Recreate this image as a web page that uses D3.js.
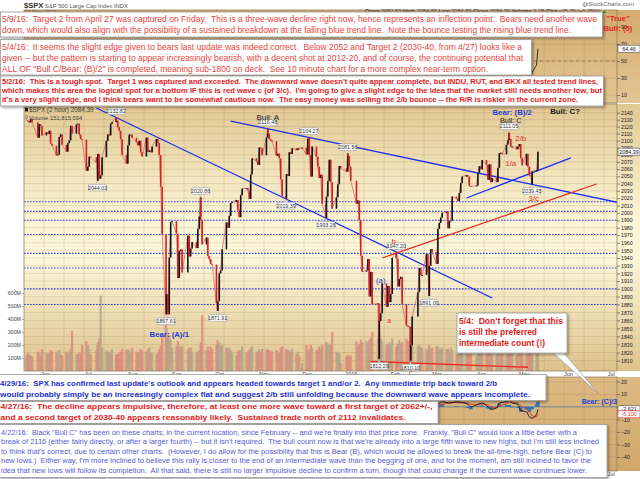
<!DOCTYPE html>
<html>
<head>
<meta charset="utf-8">
<script src="https://cdn.jsdelivr.net/npm/d3@7"></script>
<style>
  body { margin: 0; background: #fff; }
  svg { display: block; font-family: "Liberation Sans", Arial, sans-serif; }
</style>
</head>
<body>
<svg id="chart" width="640" height="479"></svg>
<script>
"use strict";

// $SPX closes (plus a few intraday turning points), volume in millions
const spx = [
  ["2015-05-18",2129.2,120],["2015-05-19",2127.8,140],["2015-05-20",2125.9,125],["2015-05-21",2130.8,120],
  ["2015-05-22",2126.1,110],["2015-05-26",2104.2,150],["2015-05-27",2123.5,140],["2015-05-28",2120.8,120],
  ["2015-05-29",2107.4,170],["2015-06-01",2111.7,140],["2015-06-02",2109.6,130],["2015-06-03",2114.1,140],
  ["2015-06-04",2095.8,160],["2015-06-05",2092.8,150],["2015-06-08",2079.3,140],["2015-06-09",2080.2,150],
  ["2015-06-10",2105.2,160],["2015-06-11",2108.9,130],["2015-06-12",2094.1,120],["2015-06-15",2084.4,150],
  ["2015-06-16",2096.3,130],["2015-06-17",2100.4,150],["2015-06-18",2121.2,170],["2015-06-19",2110.0,310],
  ["2015-06-22",2122.9,130],["2015-06-23",2124.2,130],["2015-06-24",2108.6,140],["2015-06-25",2102.3,140],
  ["2015-06-26",2101.5,200],["2015-06-29",2057.6,230],["2015-06-30",2063.1,200],["2015-07-01",2077.4,170],
  ["2015-07-02",2076.8,130],["2015-07-06",2068.8,160],["2015-07-07 11",2044.0,200],["2015-07-07",2081.3,220],
  ["2015-07-08",2046.7,250],["2015-07-09",2051.3,580],["2015-07-10",2076.6,180],["2015-07-13",2099.6,160],
  ["2015-07-14",2108.9,150],["2015-07-15",2107.4,140],["2015-07-16",2124.3,150],["2015-07-17",2126.6,170],
  ["2015-07-20 12",2132.8,130],["2015-07-20",2128.3,130],["2015-07-21",2119.2,130],["2015-07-22",2114.2,140],
  ["2015-07-23",2102.2,150],["2015-07-24",2079.7,170],["2015-07-27",2067.6,160],["2015-07-28",2093.3,170],
  ["2015-07-29",2108.6,160],["2015-07-30",2108.6,140],["2015-07-31",2104.0,180],["2015-08-03",2098.0,150],
  ["2015-08-04",2093.3,140],["2015-08-05",2099.8,150],["2015-08-06",2083.6,170],["2015-08-07",2077.6,160],
  ["2015-08-10",2104.2,150],["2015-08-11",2084.1,170],["2015-08-12",2086.1,180],["2015-08-13",2083.4,140],
  ["2015-08-14",2091.5,140],["2015-08-17",2102.4,130],["2015-08-18",2096.9,140],["2015-08-19",2079.6,170],
  ["2015-08-20",2035.7,200],["2015-08-21",1970.9,280],["2015-08-24 10",1867.6,370],["2015-08-24",1893.2,330],
  ["2015-08-25",1867.6,280],["2015-08-26",1940.5,280],["2015-08-27",1987.7,240],["2015-08-28",1988.9,180],
  ["2015-08-31",1972.2,190],["2015-09-01",1913.9,230],["2015-09-02",1948.9,200],["2015-09-03",1951.1,180],
  ["2015-09-04",1921.2,190],["2015-09-08",1969.4,170],["2015-09-09",1942.0,180],["2015-09-10",1952.3,180],
  ["2015-09-11",1961.1,150],["2015-09-14",1953.0,140],["2015-09-15",1978.1,150],["2015-09-16",1995.3,160],
  ["2015-09-17 14",2020.9,200],["2015-09-17",1990.2,220],["2015-09-18",1958.0,430],["2015-09-21",1967.0,160],
  ["2015-09-22",1942.7,190],["2015-09-23",1938.8,160],["2015-09-24",1932.2,190],["2015-09-25",1931.3,170],
  ["2015-09-28",1881.8,200],["2015-09-29 11",1871.9,240],["2015-09-29",1884.1,210],["2015-09-30",1920.0,220],
  ["2015-10-01",1923.8,190],["2015-10-02",1951.4,200],["2015-10-05",1987.1,180],["2015-10-06",1979.9,170],
  ["2015-10-07",1995.8,180],["2015-10-08",2013.4,160],["2015-10-09",2014.9,140],["2015-10-12",2017.5,120],
  ["2015-10-13",2003.7,150],["2015-10-14",1994.2,160],["2015-10-15",2023.9,160],["2015-10-16",2033.1,190],
  ["2015-10-19",2033.7,140],["2015-10-20",2030.8,150],["2015-10-21",2018.9,160],["2015-10-22",2052.5,180],
  ["2015-10-23",2075.2,190],["2015-10-26",2071.2,140],["2015-10-27",2065.9,150],["2015-10-28",2090.4,170],
  ["2015-10-29",2089.4,140],["2015-10-30",2079.4,170],["2015-11-02",2104.1,160],["2015-11-03 14",2116.5,170],
  ["2015-11-03",2109.8,160],["2015-11-04",2102.3,160],["2015-11-05",2099.9,150],["2015-11-06",2099.2,150],
  ["2015-11-09",2078.6,160],["2015-11-10",2081.7,150],["2015-11-11",2075.0,140],["2015-11-12",2046.0,180],
  ["2015-11-13",2023.0,190],["2015-11-16 10",2019.4,170],["2015-11-16",2053.2,160],["2015-11-17",2050.4,160],
  ["2015-11-18",2083.6,160],["2015-11-19",2081.2,150],["2015-11-20",2089.2,170],["2015-11-23",2086.6,130],
  ["2015-11-24",2089.1,150],["2015-11-25",2088.9,110],["2015-11-27",2090.1,60],["2015-11-30",2080.4,200],
  ["2015-12-01",2102.6,160],["2015-12-02 10",2104.3,140],["2015-12-02",2079.5,170],["2015-12-03",2049.6,200],
  ["2015-12-04",2091.7,180],["2015-12-07",2077.1,160],["2015-12-08",2063.6,170],["2015-12-09",2047.6,190],
  ["2015-12-10",2052.2,170],["2015-12-11",2012.4,200],["2015-12-14 10",1993.3,220],["2015-12-14",2021.9,220],
  ["2015-12-15",2043.4,200],["2015-12-16",2073.1,210],["2015-12-17",2041.9,200],["2015-12-18",2005.6,300],
  ["2015-12-21",2021.2,150],["2015-12-22",2039.0,140],["2015-12-23",2064.3,140],["2015-12-24",2061.0,60],
  ["2015-12-28",2056.5,110],["2015-12-29 14",2081.6,120],["2015-12-29",2078.4,120],["2015-12-30",2063.4,110],
  ["2015-12-31",2043.9,120],["2016-01-04",2012.7,230],["2016-01-05",2016.7,190],["2016-01-06",1990.3,210],
  ["2016-01-07",1943.1,240],["2016-01-08",1922.0,220],["2016-01-11",1923.7,230],["2016-01-12",1938.7,210],
  ["2016-01-13",1890.3,240],["2016-01-14",1921.8,260],["2016-01-15",1880.3,300],["2016-01-19",1881.3,250],
  ["2016-01-20 11",1812.3,300],["2016-01-20",1859.3,290],["2016-01-21",1869.0,250],["2016-01-22",1906.9,230],
  ["2016-01-25",1877.1,200],["2016-01-26",1903.6,210],["2016-01-27",1883.0,220],["2016-01-28",1893.4,200],
  ["2016-01-29",1940.2,250],["2016-02-01 14",1947.2,190],["2016-02-01",1939.4,180],["2016-02-02",1903.0,210],
  ["2016-02-03",1912.5,240],["2016-02-04",1915.5,210],["2016-02-05",1880.1,220],["2016-02-08",1853.4,250],
  ["2016-02-09",1852.2,230],["2016-02-10",1851.9,210],["2016-02-11 11",1810.1,280],["2016-02-11",1829.1,260],
  ["2016-02-12",1864.8,200],["2016-02-16",1895.6,190],["2016-02-17",1926.8,200],["2016-02-18",1917.8,180],
  ["2016-02-19",1917.8,180],["2016-02-22",1945.5,170],["2016-02-23",1921.3,160],["2016-02-24 10",1891.0,200],
  ["2016-02-24",1929.8,190],["2016-02-25",1951.7,170],["2016-02-26",1948.1,180],["2016-02-29",1932.2,190],
  ["2016-03-01",1978.4,190],["2016-03-02",1986.5,170],["2016-03-03",1993.4,170],["2016-03-04",2000.0,180],
  ["2016-03-07",2001.8,170],["2016-03-08",1979.3,170],["2016-03-09",1989.3,150],["2016-03-10",1989.6,180],
  ["2016-03-11",2022.2,160],["2016-03-14",2019.6,130],["2016-03-15",2015.9,140],["2016-03-16",2027.2,150],
  ["2016-03-17",2040.6,160],["2016-03-18",2049.6,230],["2016-03-21",2051.6,130],["2016-03-22",2049.8,130],
  ["2016-03-23",2036.7,130],["2016-03-24",2035.9,130],["2016-03-28",2037.1,110],["2016-03-29",2055.0,140],
  ["2016-03-30",2064.0,140],["2016-03-31",2059.7,150],["2016-04-01",2072.8,150],["2016-04-04",2066.1,130],
  ["2016-04-05",2045.2,140],["2016-04-06",2066.7,130],["2016-04-07",2041.9,150],["2016-04-08",2047.6,130],
  ["2016-04-11",2042.0,130],["2016-04-12",2061.7,150],["2016-04-13",2082.4,160],["2016-04-14",2082.8,130],
  ["2016-04-15",2080.7,150],["2016-04-18",2094.3,130],["2016-04-19",2100.8,140],["2016-04-20 11",2111.1,150],
  ["2016-04-20",2102.4,160],["2016-04-21",2091.5,150],["2016-04-22",2091.6,140],["2016-04-25",2087.8,120],
  ["2016-04-26",2091.7,130],["2016-04-27",2095.2,150],["2016-04-28",2075.8,160],["2016-04-29",2065.3,170],
  ["2016-05-02",2081.4,130],["2016-05-03",2063.4,160],["2016-05-04",2051.1,150],["2016-05-05",2050.6,140],
  ["2016-05-06 10",2039.5,160],["2016-05-06",2057.1,150],["2016-05-09",2058.7,140],["2016-05-10",2084.4,150]
];

// labelled turning points: date, value, side of the mark
const pivots = [
  ["2015-07-20 12",2132.82,"above"],["2015-07-07 11",2044.02,"below"],["2015-08-24 10",1867.61,"below"],
  ["2015-09-17 14",2020.86,"above"],["2015-09-29 11",1871.91,"below"],["2015-11-03 14",2116.48,"above"],
  ["2015-11-16 10",2019.39,"below"],["2015-12-02 10",2104.27,"above"],["2015-12-14 10",1993.26,"below"],
  ["2015-12-29 14",2081.56,"above"],["2016-01-20 11",1812.29,"below"],["2016-02-01 14",1947.20,"above"],
  ["2016-02-11 11",1810.10,"below"],["2016-02-24 10",1891.00,"below"],["2016-04-20 11",2111.05,"above"],
  ["2016-05-06 10",2039.45,"below"]
];

const supportLevels = [2015, 2002, 1990, 1971, 1946, 1927, 1900, 1880];

const blueTrends = [
  [["2015-07-06",2146.8],["2016-04-08",1888.3]],
  [["2015-10-08",2128.0],["2016-07-07",2013.3]],
  [["2016-03-21",2020.2],["2016-06-02",2075.6]]
];
const redTrends = [
  [["2016-01-22",1940.0],["2016-06-20",2039.4]],
  [["2016-01-14",1809.0],["2016-05-03",1802.0]]
];

// wave labels: text, date, price, style
const waveLabels = [
  ["Bull: A","2015-11-03",2133.5,"blackNormal"],
  ["Bear: (B)/2","2016-04-22",2140.5,"blueBold"],
  ["Bull: C","2016-04-21",2129.0,"blackSmall"],
  ["Bull: C?","2016-05-29",2142.5,"blackBold"],
  ["2/b","2016-04-28",2103.5,"red"],
  ["1/a","2016-04-21",2068.0,"red"],
  ["3/c","2016-05-07",2020.0,"red"],
  ["b","2016-01-30",1962.0,"redSmall"],
  ["(a)","2016-01-21",1911.0,"blue"],
  ["a","2016-01-27",1861.0,"redSmall"],
  ["c","2016-02-11",1796.0,"redSmall"],
  ["Bear: (A)/1","2015-08-26",1843.0,"blueBold"]
];

const rsiDates = ["2016-04-25","2016-04-27","2016-04-28","2016-04-29","2016-05-02","2016-05-03",
  "2016-05-04","2016-05-05","2016-05-06","2016-05-09","2016-05-10"];
const rsiValues = [55, 58, 40, 35, 50, 36, 30, 31, 37, 45, 64.46];

const macdDates = ["2016-03-01","2016-03-04","2016-03-09","2016-03-14","2016-03-17","2016-03-22",
  "2016-03-24","2016-03-29","2016-04-01","2016-04-05","2016-04-07","2016-04-11","2016-04-13",
  "2016-04-18","2016-04-20","2016-04-22","2016-04-26","2016-04-28","2016-05-02","2016-05-04",
  "2016-05-06","2016-05-09","2016-05-10"];
const macdValues = [2, 4, 3, 4, 3.5, 2, 0, 2, 3, 0, -2, -1, 3, 4, 5, 3, 2, -3, -4, -8, -9, -6, -2];
const signalValues = [1, 2, 3, 3.5, 3.5, 3, 2, 1.5, 2, 1.5, 0, -0.5, 0.5, 2.5, 3.5, 3.5, 3, 1, -2, -4, -7, -8, -6];

const priceTicks = d3.range(1810, 2141, 10);
const volumeTicks = [100, 200, 300, 400, 500, 600];
const rsiTicks = [90, 70, 50, 30, 10];
const macdTicks = [20, 10, 0, -10, -20, -30, -40];

const parseHour = d3.timeParse("%Y-%m-%d %H");
const toDate = (s) => parseHour(s.length > 10 ? s : s + " 16");

const svg = d3.select("#chart");
const defs = svg.append("defs");

const left = 24, right = 617;
const x = d3.scaleTime().domain([new Date(2015, 4, 17), new Date(2016, 6, 5)]).range([left, right]);
const yPrice = d3.scaleLog().domain([1810, 2140]).range([360.7, 112.7]);
const yVol = d3.scaleLinear().domain([0, 600]).range([371, 293]);
const yRsi = d3.scaleLinear().domain([10, 90]).range([95, 27]);
const yMacd = d3.scaleLinear().domain([-40, 20]).range([457, 381.7]);

const panels = {
  rsi: { top: 10, bottom: 103 },
  price: { top: 104, bottom: 371 },
  macd: { top: 377, bottom: 471 }
};

const makeGradient = (id, stops) => {
  const g = defs.append("linearGradient").attr("id", id)
    .attr("x1", 0).attr("x2", 0).attr("y1", 0).attr("y2", 1);
  stops.forEach(([o, c]) => g.append("stop").attr("offset", o).attr("stop-color", c));
};
makeGradient("gRsi", [[0, "#d4ab70"], [1, "#e2c592"]]);
makeGradient("gPrice", [[0, "#e2c893"], [0.42, "#fbf4d4"], [0.58, "#fcf7da"], [1, "#dec28c"]]);
makeGradient("gMacd", [[0, "#dcba84"], [1, "#d1a76b"]]);

const shadow = defs.append("filter").attr("id", "shadow").attr("x", "-5%").attr("y", "-20%")
  .attr("width", "110%").attr("height", "150%");
shadow.append("feDropShadow").attr("dx", 1.5).attr("dy", 1.5).attr("stdDeviation", 1)
  .attr("flood-color", "#000").attr("flood-opacity", 0.35);

Object.entries(panels).forEach(([key, p]) => {
  defs.append("clipPath").attr("id", "clip-" + key).append("rect")
    .attr("x", left).attr("y", p.top).attr("width", right - left).attr("height", p.bottom - p.top);
});

// panel backgrounds
const bgIds = { rsi: "gRsi", price: "gPrice", macd: "gMacd" };
Object.entries(panels).forEach(([key, p]) => {
  svg.append("rect").attr("x", left).attr("y", p.top).attr("width", 640 - left)
    .attr("height", p.bottom - p.top).attr("fill", `url(#${bgIds[key]})`);
});

// grid
const gridColor = "rgba(140,105,55,0.28)";
const gridDates = d3.timeWeek.every(2).range(new Date(2015, 4, 18), new Date(2016, 6, 5));
Object.entries(panels).forEach(([key, p]) => {
  svg.append("g").selectAll("line").data(gridDates).join("line")
    .attr("x1", (d) => x(d)).attr("x2", (d) => x(d))
    .attr("y1", p.top).attr("y2", p.bottom)
    .attr("stroke", gridColor).attr("stroke-width", 0.6);
});
svg.append("g").selectAll("line").data(priceTicks).join("line")
  .attr("x1", left).attr("x2", right).attr("y1", (d) => yPrice(d)).attr("y2", (d) => yPrice(d))
  .attr("stroke", gridColor).attr("stroke-width", 0.6);
svg.append("g").selectAll("line").data(rsiTicks).join("line")
  .attr("x1", left).attr("x2", right).attr("y1", (d) => yRsi(d)).attr("y2", (d) => yRsi(d))
  .attr("stroke", gridColor).attr("stroke-width", 0.6);
svg.append("g").selectAll("line").data(macdTicks).join("line")
  .attr("x1", left).attr("x2", right).attr("y1", (d) => yMacd(d)).attr("y2", (d) => yMacd(d))
  .attr("stroke", gridColor).attr("stroke-width", 0.6);

// price panel content
const pts = spx.map(([d, c, v]) => ({ date: toDate(d), close: c, vol: v }));
pts.forEach((p, i) => { p.open = i ? pts[i - 1].close : p.close; });

const pricePanel = svg.append("g").attr("clip-path", "url(#clip-price)");

pricePanel.append("g").selectAll("rect").data(pts).join("rect")
  .attr("x", (d) => x(d.date) - 1.1).attr("width", 2.2)
  .attr("y", (d) => yVol(d.vol)).attr("height", (d) => yVol(0) - yVol(d.vol))
  .attr("fill", (d) => (d.close >= d.open ? "#b3a58a" : "#de8a7c"))
  .attr("opacity", 0.85);

pricePanel.append("g").selectAll("line").data(supportLevels).join("line")
  .attr("x1", left).attr("x2", right)
  .attr("y1", (d) => yPrice(d)).attr("y2", (d) => yPrice(d))
  .attr("stroke", "#3347f0").attr("stroke-width", 1.1).attr("stroke-dasharray", "1.6,1.4");

const trendLine = (pair) => pair.map(([d, v]) => [x(toDate(d)), yPrice(v)]);
pricePanel.append("g").selectAll("path").data(blueTrends).join("path")
  .attr("d", (d) => d3.line()(trendLine(d)))
  .attr("stroke", "#1b2ff0").attr("stroke-width", 1.3).attr("fill", "none");
pricePanel.append("g").selectAll("path").data(redTrends).join("path")
  .attr("d", (d) => d3.line()(trendLine(d)))
  .attr("stroke", "#ee2a22").attr("stroke-width", 1.3).attr("fill", "none");

pricePanel.append("path").datum(pts)
  .attr("d", d3.line().x((d) => x(d.date)).y((d) => yPrice(d.close)))
  .attr("fill", "none").attr("stroke", "#d9706a").attr("stroke-width", 0.8);

pricePanel.append("g").selectAll("rect").data(pts.slice(1)).join("rect")
  .attr("x", (d) => x(d.date) - 0.8).attr("width", 1.6)
  .attr("y", (d) => yPrice(Math.max(d.open, d.close)))
  .attr("height", (d) => Math.max(0.8, Math.abs(yPrice(d.open) - yPrice(d.close))))
  .attr("fill", (d) => (d.close >= d.open ? "#141414" : "#d81e1e"));

// pivot value tags
const tags = svg.append("g");
pivots.forEach(([d, v, side]) => {
  const cx = x(toDate(d));
  const py = yPrice(v);
  const cy = side === "above" ? py - 6.5 : py + 7;
  const g = tags.append("g");
  const tipY = side === "above" ? cy + 3.2 : cy - 3.2;
  g.append("path")
    .attr("d", `M${cx - 1.6},${tipY}L${cx},${side === "above" ? py - 1 : py + 1}L${cx + 1.6},${tipY}Z`)
    .attr("fill", "#fff").attr("stroke", "#888").attr("stroke-width", 0.4);
  g.append("rect").attr("x", cx - 9).attr("y", cy - 3.3).attr("width", 18).attr("height", 6.6)
    .attr("fill", "#fff").attr("stroke", "#888").attr("stroke-width", 0.5).attr("rx", 0.8);
  g.append("text").attr("x", cx).attr("y", cy + 1.9).attr("text-anchor", "middle")
    .attr("font-size", 5.3).attr("fill", "#333").text(d3.format(".2f")(v));
});

// wave labels
const labelStyles = {
  blackNormal: { fill: "#1a1a1a", weight: "normal", size: 8 },
  blackSmall: { fill: "#1a1a1a", weight: "normal", size: 7.4 },
  blackBold: { fill: "#1a1a1a", weight: "bold", size: 7.8 },
  blueBold: { fill: "#2a3fd8", weight: "bold", size: 7.8 },
  blue: { fill: "#2a3fd8", weight: "normal", size: 7.8 },
  red: { fill: "#e0342c", weight: "normal", size: 7.8 },
  redSmall: { fill: "#e0342c", weight: "normal", size: 7 }
};
svg.append("g").selectAll("text").data(waveLabels).join("text")
  .attr("x", (d) => x(toDate(d[1]))).attr("y", (d) => yPrice(d[2]) + 3)
  .attr("text-anchor", "middle")
  .attr("fill", (d) => labelStyles[d[3]].fill)
  .attr("font-weight", (d) => labelStyles[d[3]].weight)
  .attr("font-size", (d) => labelStyles[d[3]].size)
  .text((d) => d[0]);

// RSI panel
const rsiPanel = svg.append("g").attr("clip-path", "url(#clip-rsi)");
rsiPanel.append("line").attr("x1", left).attr("x2", right)
  .attr("y1", yRsi(50)).attr("y2", yRsi(50))
  .attr("stroke", "#6a5a40").attr("stroke-width", 0.6).attr("stroke-dasharray", "3,3");
rsiPanel.append("path")
  .datum(rsiDates.map((d, i) => [x(toDate(d)), yRsi(rsiValues[i])]))
  .attr("d", d3.line()).attr("fill", "none").attr("stroke", "#222").attr("stroke-width", 0.9);

// MACD panel
const macdPanel = svg.append("g").attr("clip-path", "url(#clip-macd)");
macdPanel.append("g").selectAll("rect").data(macdDates).join("rect")
  .attr("x", (d) => x(toDate(d)) - 1.8).attr("width", 3.6)
  .attr("y", (d, i) => yMacd(Math.max(0, macdValues[i] - signalValues[i])))
  .attr("height", (d, i) => Math.abs(yMacd(macdValues[i] - signalValues[i]) - yMacd(0)))
  .attr("fill", "#2f78b4");
macdPanel.append("line").attr("x1", left).attr("x2", right).attr("y1", yMacd(0)).attr("y2", yMacd(0))
  .attr("stroke", "#2f78b4").attr("stroke-width", 0.6);
macdPanel.append("path")
  .datum(macdDates.map((d, i) => [x(toDate(d)), yMacd(signalValues[i])]))
  .attr("d", d3.line().curve(d3.curveMonotoneX)).attr("fill", "none").attr("stroke", "#e0302a").attr("stroke-width", 0.9);
macdPanel.append("path")
  .datum(macdDates.map((d, i) => [x(toDate(d)), yMacd(macdValues[i])]))
  .attr("d", d3.line().curve(d3.curveMonotoneX)).attr("fill", "none").attr("stroke", "#111").attr("stroke-width", 0.9);

// axes and frames
Object.values(panels).forEach((p) => {
  svg.append("rect").attr("x", left).attr("y", p.top).attr("width", right - left)
    .attr("height", p.bottom - p.top).attr("fill", "none").attr("stroke", "#8a7656").attr("stroke-width", 0.7);
});

const rightAxis = (scale, ticks, fmt) => {
  const g = svg.append("g").attr("transform", `translate(${right},0)`)
    .call(d3.axisRight(scale).tickValues(ticks).tickFormat(fmt).tickSize(3).tickPadding(1));
  g.select(".domain").remove();
  g.selectAll("line").attr("stroke", "#444").attr("stroke-width", 0.6);
  g.selectAll("text").attr("font-size", 5.2).attr("fill", "#222").attr("font-family", "Liberation Sans, Arial");
  return g;
};
rightAxis(yPrice, priceTicks, d3.format("d"));
rightAxis(yRsi, rsiTicks, d3.format("d"));
rightAxis(yMacd, macdTicks, d3.format("d"));

const volAxis = svg.append("g").attr("transform", `translate(${left},0)`)
  .call(d3.axisLeft(yVol).tickValues(volumeTicks).tickFormat((d) => d + "M").tickSize(2).tickPadding(1));
volAxis.select(".domain").remove();
volAxis.selectAll("line").attr("stroke", "#666").attr("stroke-width", 0.5);
volAxis.selectAll("text").attr("font-size", 5.3).attr("fill", "#444").attr("font-family", "Liberation Sans, Arial");

const monthFmt = (d) => (d.getMonth() === 0 ? d3.timeFormat("%Y")(d) : d3.timeFormat("%b")(d));
const months = d3.timeMonth.range(new Date(2015, 5, 1), new Date(2016, 6, 2));
svg.append("g").selectAll("text").data(months).join("text")
  .attr("x", (d) => x(d)).attr("y", panels.price.bottom + 5).attr("text-anchor", "middle")
  .attr("font-size", 5.4).attr("fill", "#444").text(monthFmt);
// the lower panel's month row is hidden by the notes except at the far right
svg.append("g").selectAll("text").data(months.filter((d) => x(d) > 607)).join("text")
  .attr("x", (d) => x(d)).attr("y", panels.macd.bottom + 5).attr("text-anchor", "middle")
  .attr("font-size", 5.4).attr("fill", "#444").text(monthFmt);

// last value tags on the right axis
const lastTag = (yy, label, color) => {
  svg.append("rect").attr("x", right + 1).attr("y", yy - 3.5).attr("width", 22).attr("height", 7)
    .attr("fill", "#fff").attr("stroke", color).attr("stroke-width", 0.6);
  svg.append("text").attr("x", right + 12).attr("y", yy + 2).attr("text-anchor", "middle")
    .attr("font-size", 5.4).attr("fill", color === "#555" ? "#111" : color).text(label);
};
lastTag(yPrice(2084.39), "2084.39", "#555");
lastTag(yRsi(64.46), "64.46", "#555");
lastTag(yMacd(-2), "-2.621", "#555");
lastTag(yMacd(-6), "-6.100", "#e0302a");

// legend inside price panel
svg.append("rect").attr("x", 25).attr("y", 107.5).attr("width", 3).attr("height", 4).attr("fill", "#222");
svg.append("text").attr("x", 29).attr("y", 112).attr("font-size", 6.3).attr("fill", "#444")
  .text("$SPX (2 hour) 2084.39");
svg.append("rect").attr("x", 25).attr("y", 115).attr("width", 3).attr("height", 4).attr("fill", "#b3a58a");
svg.append("text").attr("x", 29).attr("y", 119.5).attr("font-size", 5.8).attr("fill", "#444")
  .text("Volume 151,815,594");

// header
const head = svg.append("text").attr("x", 24).attr("y", 7.5).attr("fill", "#333");
head.append("tspan").attr("font-weight", "bold").attr("font-size", 7.6).text("$SPX");
head.append("tspan").attr("font-size", 5.8).attr("fill", "#555").text(" S&P 500 Large Cap Index INDX");
svg.append("text").attr("x", 24).attr("y", 13.5).attr("font-size", 5.6).attr("fill", "#555").text("10-May-2016");
svg.append("text").attr("x", 634).attr("y", 6).attr("text-anchor", "end").attr("font-size", 6).attr("fill", "#666")
  .text("@StockCharts.com");
const ohlc = svg.append("text").attr("x", 365).attr("y", 12.5).attr("font-size", 5.6).attr("fill", "#444");
[["Open", " 2082.83 "], ["High", " 2084.87 "], ["Low", " 2082.83 "], ["Close", " 2084.39 "],
 ["Volume", " 2.1B "], ["Chg", " +25.70 (+1.25%) "]].forEach(([k, v]) => {
  ohlc.append("tspan").attr("font-weight", "bold").text(k);
  ohlc.append("tspan").text(v);
});
ohlc.append("tspan").attr("fill", "#1a9a1a").text("\u25B2");

// comment boxes
const noteStyles = {
  plainRed: { fill: "#e8433d", weight: "normal", size: 8.6 },
  boldRed: { fill: "#e31b1b", weight: "bold", size: 7.3 },
  boldBlue: { fill: "#1f30d2", weight: "bold", size: 7.6 },
  boldRed2: { fill: "#e31b1b", weight: "bold", size: 7.8 },
  plainBlue: { fill: "#5a5ad2", weight: "normal", size: 7.1 },
  callout: { fill: "#e31b1b", weight: "bold", size: 8.4 }
};
const notes = [
  { x: 0.5, y: 12, w: 602, h: 25, style: "plainRed", tx: 2, lines: [
    [22, 595, "5/9/16:  Target 2 from April 27 was captured on Friday.  This is a three-wave decline right now, hence represents an inflection point.  Bears need another wave"],
    [33.3, 569, "down, which would also align with the possibility of a sustained breakdown at the falling blue trend line.  Note the bounce testing the rising blue trend line."]] },
  { x: 0.5, y: 39.5, w: 531, h: 35.5, style: "plainRed", tx: 2, lines: [
    [50.3, 520, "5/4/16:  It seems the slight edge given to bears last update was indeed correct.  Below 2052 and Target 2 (2030-40, from 4/27) looks like a"],
    [61.3, 521, "given -- but the pattern is starting to appear increasingly bearish, with a decent shot at 2012-20, and of course, the continuing potential that"],
    [72.2, 486, "ALL OF \"Bull C/Bear: (B)/2\" is completed, meaning sub-1800 on deck.  See 10 minute chart for a more complex near-term option."]] },
  { x: 0.5, y: 76, w: 603, h: 30, style: "boldRed", tx: 2, lines: [
    [83.6, 596, "5/2/16:  This is a tough spot.  Target 1 was captured and exceeded.  The downward wave doesn't quite appear complete, but INDU, RUT, and BKX all tested trend lines,"],
    [92.9, 600, "which makes this area the logical spot for a bottom IF this is red wave c (of 3/c).  I'm going to give a slight edge to the idea that the market still needs another low, but"],
    [102, 576, "it's a very slight edge, and I think bears want to be somewhat cautious now.  The easy money was selling the 2/b bounce -- the R/R is riskier in the current zone."]] },
  { x: -1, y: 374.5, w: 547, h: 26, style: "boldBlue", tx: 0, lines: [
    [385.8, 497, "4/29/16:  SPX has confirmed last update's outlook and appears headed towards target 1 and/or 2.  Any immediate trip back toward 2/b"],
    [397.2, 530, "would probably simply be an increasingly complex flat and suggest 2/b still unfolding because the downward wave appears incomplete."]] },
  { x: -1, y: 401.5, w: 439, h: 22, style: "boldRed2", tx: 0.5, lines: [
    [409, 432, "4/27/16:  The decline appears impulsive, therefore, at least one more wave toward a first target of 2062+/-,"],
    [420, 405, "and a second target of 2030-40 appears reasonably likely.  Sustained trade north of 2112 invalidates."]] },
  { x: -1, y: 424.5, w: 608, h: 53, style: "plainBlue", tx: 1, lines: [
    [434.6, 576, "4/22/16:  Black \"Bull C\" has been on these charts, in the current location, since February -- and we're finally into that price zone.  Frankly, \"Bull C\" would look a little better with a"],
    [444.3, 598, "break of 2116 (either fairly directly, or after a larger fourth) -- but it isn't required.  The bull count now is that we're already into a large fifth wave to new highs, but I'm still less inclined"],
    [453.8, 591, "to think that's correct, due to certain other charts.  (However, I do allow for the possibility that this is Bear (B), which would be allowed to break the all-time-high, before Bear (C) to"],
    [463.4, 590, "new lows.)  Either way, I'm more inclined to believe this rally is closer to the end of an intermediate wave than the begging of one, and for the moment, am still inclined to favor the"],
    [473, 586, "idea that new lows will follow its completion.  All that said, there is still no larger impulsive decline to confirm a turn, though that could change if the current wave continues lower."]] }
];

// callout pointer for the 5/4 note
svg.append("path").attr("d", "M552,352L598,393L563,352Z")
  .attr("fill", "#fff").attr("stroke", "#8a8a8a").attr("stroke-width", 0.6);
notes.push({ x: 457, y: 313, w: 110, h: 40, style: "callout", tx: 459, lines: [
  [324.2, 104, "5/4:  Don't forget that this"],
  [335.2, 78, "is still the preferred"],
  [346.2, 86, "intermediate count (!)"]] });

notes.forEach((n) => {
  const st = noteStyles[n.style];
  svg.append("rect").attr("x", n.x).attr("y", n.y).attr("width", n.w).attr("height", n.h)
    .attr("fill", "#fff").attr("stroke", "#9a9a9a").attr("stroke-width", 0.8)
    .attr("filter", "url(#shadow)");
  svg.append("g").selectAll("text").data(n.lines).join("text")
    .attr("x", n.tx).attr("y", (d) => d[0])
    .attr("textLength", (d) => d[1]).attr("lengthAdjust", "spacingAndGlyphs")
    .style("white-space", "pre")
    .attr("fill", st.fill).attr("font-weight", st.weight).attr("font-size", st.size)
    .text((d) => d[2]);
});

// labels drawn over the boxes' edges
const edgeLabels = [
  ["\"True\"", "2016-07-05", yRsi(100.5)],
  ["Bull: (5)", "2016-07-05", yRsi(88.8)],
  ["Bear: (C)/3", "2016-06-22", yMacd(4.2)]
];
svg.append("g").selectAll("text").data(edgeLabels).join("text")
  .attr("x", (d) => x(toDate(d[1]))).attr("y", (d) => d[2] + 2.5)
  .attr("text-anchor", "middle").attr("font-weight", "bold")
  .attr("font-size", (d, i) => (i < 2 ? 7.8 : 7))
  .attr("fill", (d, i) => (i < 2 ? "#e3261e" : "#2a3fd8"))
  .text((d) => d[0]);
</script>
</body>
</html>
